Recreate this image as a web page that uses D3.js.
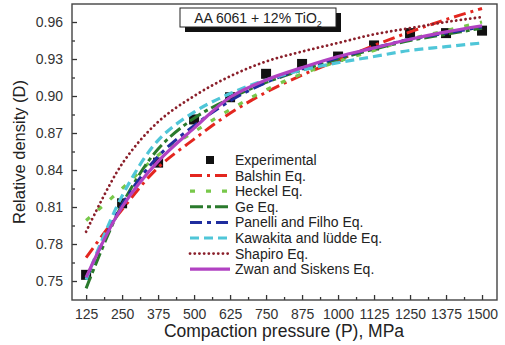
<!DOCTYPE html>
<html>
<head>
<meta charset="utf-8">
<script src="https://cdn.jsdelivr.net/npm/d3@7"></script>
<style>
  html, body { margin: 0; padding: 0; background: #fff; }
  svg { display: block; font-family: "Liberation Sans", Arial, sans-serif; }
</style>
</head>
<body>
<svg id="chart" width="505" height="345"></svg>
<script>
// ---- data ----
const pressure = [125, 250, 375, 500, 625, 750, 875, 1000, 1125, 1250, 1375, 1500];
const experimental = [0.755, 0.813, 0.846, 0.881, 0.899, 0.918, 0.926, 0.932, 0.941, 0.951, 0.951, 0.953];
const balshin  = [0.769, 0.808, 0.842, 0.865, 0.886, 0.903, 0.917, 0.929, 0.941, 0.952, 0.962, 0.971];
const heckel   = [0.799, 0.825, 0.852, 0.871, 0.889, 0.905, 0.918, 0.928, 0.937, 0.946, 0.953, 0.960];
const ge       = [0.744, 0.812, 0.857, 0.882, 0.898, 0.911, 0.921, 0.930, 0.938, 0.945, 0.950, 0.955];
const panelli  = [0.752, 0.812, 0.851, 0.876, 0.896, 0.911, 0.922, 0.931, 0.939, 0.946, 0.951, 0.956];
const kawakita = [0.751, 0.819, 0.864, 0.887, 0.902, 0.913, 0.921, 0.927, 0.932, 0.937, 0.940, 0.943];
const shapiro  = [0.790, 0.845, 0.879, 0.900, 0.916, 0.928, 0.936, 0.943, 0.950, 0.955, 0.960, 0.964];
const zwan     = [0.753, 0.810, 0.847, 0.874, 0.899, 0.913, 0.923, 0.932, 0.939, 0.946, 0.952, 0.957];
const xTicks = [125, 250, 375, 500, 625, 750, 875, 1000, 1125, 1250, 1375, 1500];
const yTicks = [0.75, 0.78, 0.81, 0.84, 0.87, 0.90, 0.93, 0.96];
const seriesNames = ["Balshin Eq.", "Heckel Eq.", "Ge Eq.", "Panelli and Filho Eq.", "Kawakita and lüdde Eq.", "Shapiro Eq.", "Zwan and Siskens Eq."];
const seriesValues = [balshin, heckel, ge, panelli, kawakita, shapiro, zwan];
const titleText = "AA 6061 + 12% TiO";

// ---- styles ----
const styles = [
  { color: "#e3261f", dash: "12,5,3,5", width: 3, cap: "butt" },
  { color: "#78c84a", dash: "5,11", width: 3.2, cap: "butt" },
  { color: "#2a7a2c", dash: "13,4,4,4", width: 3, cap: "butt" },
  { color: "#1f2d9e", dash: "12,5,4,5", width: 3, cap: "butt" },
  { color: "#4fc6d8", dash: "9,5", width: 3.2, cap: "butt" },
  { color: "#8a1f2a", dash: "0.1,4.6", width: 2.8, cap: "round" },
  { color: "#b142c2", dash: null, width: 3.2, cap: "butt" }
];

const svg = d3.select("#chart");
const L = 72, R = 497, T = 4, B = 300;
const x = d3.scaleLinear().domain([76, 1552]).range([L, R]);
const y = d3.scaleLinear().domain([0.7346, 0.9746]).range([B, T]);

// axes (inward ticks)
const xMinor = d3.range(187.5, 1500, 125);
const yMinor = d3.range(0.765, 0.97, 0.03);

const gx = svg.append("g").attr("transform", `translate(0,${B})`);
gx.call(d3.axisBottom(x).tickValues(xTicks).tickSize(-5).tickPadding(9).tickFormat(d3.format("d")));
gx.append("g").call(d3.axisBottom(x).tickValues(xMinor).tickSize(-3).tickFormat(""));
const gy = svg.append("g").attr("transform", `translate(${L},0)`);
gy.call(d3.axisLeft(y).tickValues(yTicks).tickSize(-5).tickPadding(9).tickFormat(d3.format(".2f")));
gy.append("g").call(d3.axisLeft(y).tickValues(yMinor).tickSize(-3).tickFormat(""));
svg.selectAll(".domain").remove();
svg.selectAll(".tick line").attr("stroke", "#333").attr("stroke-width", 1.3);
svg.selectAll(".tick text").attr("fill", "#333").style("font-size", "14px");

// frame
svg.append("rect").attr("x", L).attr("y", T).attr("width", R - L).attr("height", B - T)
  .attr("fill", "none").attr("stroke", "#444").attr("stroke-width", 1.4);

// experimental squares
svg.append("g").selectAll("rect").data(pressure).join("rect")
  .attr("x", (d) => x(d) - 5).attr("y", (d, i) => y(experimental[i]) - 5)
  .attr("width", 10).attr("height", 10).attr("fill", "#111");

// model curves
const line = d3.line().x((d) => x(d[0])).y((d) => y(d[1])).curve(d3.curveCatmullRom.alpha(0.5));
seriesValues.forEach((vals, k) => {
  const st = styles[k];
  svg.append("path").datum(pressure.map((p, i) => [p, vals[i]]))
    .attr("d", line).attr("fill", "none")
    .attr("stroke", st.color).attr("stroke-width", st.width)
    .attr("stroke-linecap", st.cap)
    .attr("stroke-dasharray", st.dash);
});

// title box with shadow
const tb = { x: 180, y: 8, w: 156, h: 19 };
svg.append("rect").attr("x", tb.x + 5).attr("y", tb.y + 5).attr("width", tb.w).attr("height", tb.h).attr("fill", "#111");
svg.append("rect").attr("x", tb.x).attr("y", tb.y).attr("width", tb.w).attr("height", tb.h)
  .attr("fill", "#fff").attr("stroke", "#222").attr("stroke-width", 1);
const tt = svg.append("text").attr("x", tb.x + tb.w / 2).attr("y", tb.y + 15)
  .attr("text-anchor", "middle").attr("fill", "#222").style("font-size", "14px");
tt.append("tspan").text(titleText);
tt.append("tspan").attr("dy", 4).style("font-size", "9px").text("2");

// legend
const lg = svg.append("g");
const lx0 = 190, lx1 = 230, ly0 = 160, ldy = 15.6;
lg.append("rect").attr("x", 210 - 4).attr("y", ly0 - 4).attr("width", 8).attr("height", 8).attr("fill", "#111");
lg.append("text").attr("x", 235).attr("y", ly0 + 5).attr("fill", "#222").style("font-size", "14px").text("Experimental");
seriesNames.forEach((name, k) => {
  const st = styles[k];
  const yy = ly0 + ldy * (k + 1);
  lg.append("line").attr("x1", lx0).attr("x2", lx1).attr("y1", yy).attr("y2", yy)
    .attr("stroke", st.color).attr("stroke-width", st.width)
    .attr("stroke-linecap", st.cap).attr("stroke-dasharray", st.dash);
  lg.append("text").attr("x", 235).attr("y", yy + 5).attr("fill", "#222").style("font-size", "14px").text(name);
});

// axis titles
svg.append("text").attr("x", 284).attr("y", 337).attr("text-anchor", "middle")
  .attr("fill", "#222").style("font-size", "17.5px").text("Compaction pressure (P), MPa");
svg.append("text").attr("transform", "translate(25,152) rotate(-90)").attr("text-anchor", "middle")
  .attr("fill", "#222").style("font-size", "16.5px").text("Relative density (D)");
</script>
</body>
</html>
